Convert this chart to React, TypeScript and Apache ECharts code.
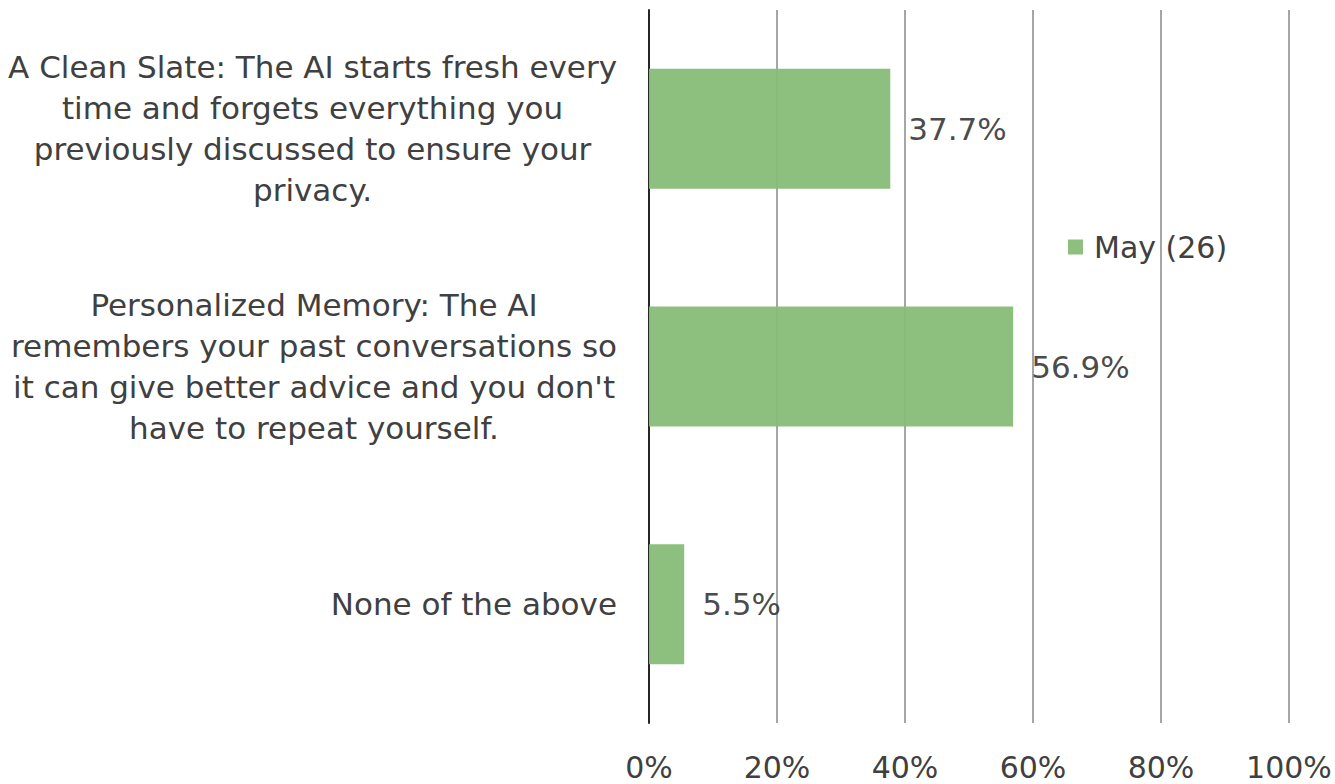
import React, { useEffect, useRef } from "react";
import * as echarts from "echarts";

const categories: string[] = [
  "A Clean Slate: The AI starts fresh every\ntime and forgets everything you\npreviously discussed to ensure your\nprivacy.",
  "Personalized Memory: The AI\nremembers your past conversations so\nit can give better advice and you don't\nhave to repeat yourself.",
  "None of the above",
];
const seriesName = "May (26)";
const values: number[] = [37.7, 56.9, 5.5];
const xTicks = { min: 0, max: 100, interval: 20 };

const FONT = "DejaVu Sans";
const TEXT = "#404040";

export default function App() {
  const ref = useRef<HTMLDivElement>(null);
  useEffect(() => {
    if (!ref.current) return;
    const chart = echarts.init(ref.current, undefined, { renderer: "svg" });
    chart.setOption({
      animation: false,
      backgroundColor: "#ffffff",
      textStyle: { fontFamily: FONT },
      grid: { left: 649, right: 46, top: 10, bottom: 61, containLabel: false },
      legend: {
        data: [seriesName],
        orient: "vertical",
        left: 1063,
        top: 227,
        icon: "rect",
        itemWidth: 15,
        itemHeight: 15,
        textStyle: { fontFamily: FONT, fontSize: 30, color: TEXT, padding: [0, 0, 0, 6] },
      },
      xAxis: {
        type: "value",
        min: xTicks.min,
        max: xTicks.max,
        interval: xTicks.interval,
        axisLine: { show: false },
        axisTick: { show: false },
        axisLabel: {
          formatter: "{value}%",
          fontFamily: FONT,
          fontSize: 30,
          lineHeight: 30,
          color: TEXT,
          margin: 29,
        },
        splitLine: { show: true, lineStyle: { color: "#a6a6a6", width: 2 } },
      },
      yAxis: {
        type: "category",
        data: categories,
        inverse: true,
        axisLine: { show: true, lineStyle: { color: "#262626", width: 2 } },
        axisTick: { show: false },
        axisLabel: {
          margin: 32,
          formatter: (v: string) =>
            v
              .split("\n")
              .map((l) => `{c|${l}}`)
              .join("\n"),
          rich: {
            c: {
              align: "center",
              fontFamily: FONT,
              fontSize: 31,
              lineHeight: 41,
              color: TEXT,
            },
          },
        },
      },
      series: [
        {
          name: seriesName,
          type: "bar",
          data: values,
          barWidth: 120,
          itemStyle: { color: "#87bc77", opacity: 0.95 },
          label: {
            show: true,
            position: "right",
            distance: 18,
            fontFamily: FONT,
            fontSize: 31,
            color: TEXT,
            formatter: (p: any) => `${Number(p.value).toFixed(1)}%`,
          },
        },
      ],
    });
    return () => chart.dispose();
  }, []);
  return (
    <div
      ref={ref}
      style={{ position: "fixed", left: 0, top: 0, width: 1335, height: 784 }}
    />
  );
}
